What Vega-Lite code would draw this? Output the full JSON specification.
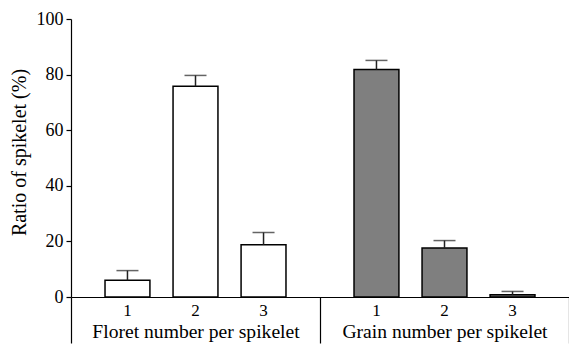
{
  "$schema": "https://vega.github.io/schema/vega-lite/v6.json",
  "width": 498,
  "height": 278,
  "autosize": {"type": "none"},
  "padding": {"left": 71, "top": 19, "right": 0, "bottom": 50},
  "config": {"view": {"stroke": null}, "font": "Liberation Serif",
    "axis": {"labelFont": "Liberation Serif", "titleFont": "Liberation Serif"},
    "text": {"font": "Liberation Serif"}},
  "data": {"values": [
    {"group": "Floret number per spikelet", "cat": "1", "value": 6.0, "upper": 9.5},
    {"group": "Floret number per spikelet", "cat": "2", "value": 75.8, "upper": 79.7},
    {"group": "Floret number per spikelet", "cat": "3", "value": 18.8, "upper": 23.2},
    {"group": "Grain number per spikelet", "cat": "1", "value": 81.8, "upper": 85.1},
    {"group": "Grain number per spikelet", "cat": "2", "value": 17.6, "upper": 20.3},
    {"group": "Grain number per spikelet", "cat": "3", "value": 0.8, "upper": 2.0}
  ]},
  "encoding": {
    "x": {"field": "group", "type": "nominal",
      "scale": {"paddingInner": 0, "paddingOuter": 0},
      "axis": {"title": null, "labelAngle": 0, "domainColor": "black", "domainWidth": 1.2,
        "tickBand": "extent", "tickSize": 46, "tickColor": "black", "tickWidth": 1.2,
        "labelPadding": -21, "labelFontSize": 19.6, "labelColor": "black", "labelBaseline": "top",
        "labelLimit": 0}},
    "xOffset": {"field": "cat", "type": "nominal", "scale": {"paddingInner": 0.34, "paddingOuter": 0.5}},
    "y": {"field": "value", "type": "quantitative",
      "scale": {"domain": [0, 100], "nice": false},
      "axis": {"title": "Ratio of spikelet (%)", "titleFontSize": 20, "titleFontWeight": "normal", "titleColor": "black",
        "titleY": 133,
        "values": [0, 20, 40, 60, 80, 100], "grid": false, "tickSize": 5, "tickColor": "black", "tickWidth": 1.2,
        "domainColor": "black", "domainWidth": 1.2, "labelFontSize": 18, "labelColor": "black", "labelPadding": 3, "titlePadding": 7}}
  },
  "layer": [
    {
      "mark": {"type": "bar", "stroke": "black", "strokeWidth": 1.5},
      "encoding": {
        "fill": {"field": "group", "type": "nominal",
          "scale": {"domain": ["Floret number per spikelet", "Grain number per spikelet"], "range": ["white", "#7f7f7f"]},
          "legend": null}
      }
    },
    {
      "mark": {"type": "rule", "color": "#222222", "strokeWidth": 1.5},
      "encoding": {"y2": {"field": "upper"}}
    },
    {
      "mark": {"type": "tick", "color": "#222222", "thickness": 1.5, "size": 22},
      "encoding": {"y": {"field": "upper", "type": "quantitative"}}
    },
    {
      "mark": {"type": "text", "fontSize": 17, "dy": 14, "baseline": "middle", "color": "black"},
      "encoding": {"y": {"datum": 0}, "text": {"field": "cat"}}
    }
  ]
}
